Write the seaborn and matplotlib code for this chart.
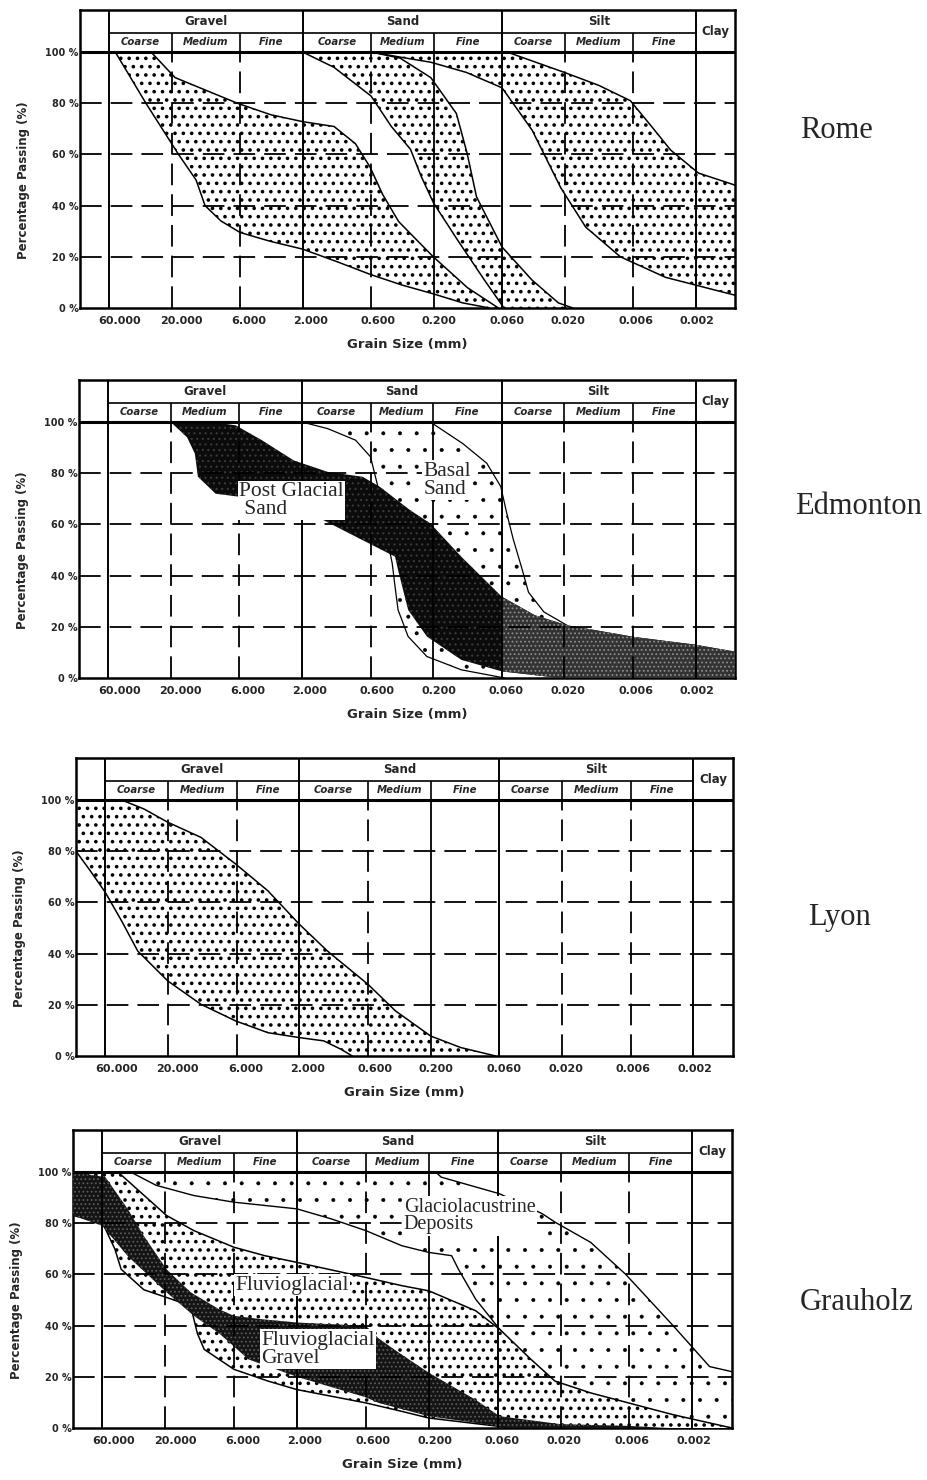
import numpy as np
import pandas as pd
import seaborn as sns
import matplotlib.pyplot as plt
import matplotlib.transforms as mtransforms
from matplotlib.ticker import NullLocator

sns.set_theme(style='white')
plt.rcParams['font.family'] = ['DejaVu Sans']
plt.rcParams['hatch.linewidth'] = 1.0
plt.rcParams['lines.dashed_pattern'] = (12, 5)

# axis values
ticks_mm = [60, 20, 6, 2, 0.6, 0.2, 0.06, 0.02, 0.006, 0.002]
tick_labels = ['60.000', '20.000', '6.000', '2.000', '0.600', '0.200',
               '0.060', '0.020', '0.006', '0.002']
solid_mm = [0.2]
dashed_mm = [20, 6, 0.6, 0.02, 0.006]
pct_ticks = [0, 20, 40, 60, 80, 100]
pct_labels = ['0 %', '20 %', '40 %', '60 %', '80 %', '100 %']
soil_names = ['Gravel', 'Sand', 'Silt', 'Clay']
soil_bounds = [60, 2, 0.06, 0.002, 0.001]
sub_names = ['Coarse', 'Medium', 'Fine']

# Rome
rome_a_left_mm = [53.8, 31.4, 17.7, 13.0, 11.1, 8.4, 6.0, 3.5, 2.0, 1.08, 0.6, 0.35, 0.2, 0.12, 0.075]
rome_a_left_pct = [100, 80, 60, 50, 40, 34, 29.5, 26, 23, 18, 13, 9, 5.5, 2, 0]
rome_a_right_mm = [28.7, 18.8, 6.3, 3.5, 2.0, 1.15, 0.79, 0.61, 0.49, 0.37, 0.26, 0.2, 0.11, 0.064]
rome_a_right_pct = [100, 90, 80, 75.5, 72.8, 70.9, 64.2, 55, 44.4, 33.8, 25.8, 19.9, 7.9, 0]
rome_b_left_mm = [2.0, 1.15, 0.6, 0.42, 0.30, 0.25, 0.2, 0.131, 0.081, 0.058]
rome_b_left_pct = [100, 94, 82.8, 70.9, 62, 51.7, 41, 26.5, 10.6, 0]
rome_b_right_mm = [0.6, 0.36, 0.21, 0.134, 0.111, 0.094, 0.06, 0.0354, 0.0223, 0.0173]
rome_b_right_pct = [100, 97.6, 90, 76, 60.5, 43.4, 23.8, 10.9, 2, 0]
rome_c_left_mm = [0.6, 0.36, 0.21, 0.112, 0.06, 0.0354, 0.0214, 0.0138, 0.0075, 0.0034, 0.001]
rome_c_left_pct = [100, 98, 96, 92, 86, 69.5, 47, 31.6, 20, 12, 5]
rome_c_right_mm = [0.055, 0.02, 0.011, 0.0063, 0.0043, 0.0031, 0.0019, 0.001]
rome_c_right_pct = [100, 92, 87, 81, 70.7, 61.7, 52.7, 48]

# Edmonton
edm_post_up_mm = [21.4, 9.7, 6.4, 4.04, 2.31, 1.27, 0.69, 0.51, 0.30, 0.21, 0.122, 0.06,
                  0.0335, 0.0191, 0.0058, 0.002, 0.001]
edm_post_up_pct = [100, 100, 98.7, 92.9, 85, 80.5, 78.6, 74.7, 65.6, 60.4, 47.4, 31.8,
                   24.5, 20.6, 16, 13, 10.3]
edm_post_lo_mm = [20, 15.0, 13.1, 12.4, 9.1, 6.0, 2.0, 0.91, 0.39, 0.37, 0.31, 0.223, 0.122,
                  0.06, 0.0216, 0.001]
edm_post_lo_pct = [100, 94, 87.7, 78.6, 72, 70.8, 66, 57, 47.4, 42.2, 26.6, 16.2, 7.1, 2.6, 0, 0]
edm_basal_left_mm = [2.0, 1.27, 0.78, 0.6, 0.5, 0.45, 0.41, 0.39, 0.37, 0.31, 0.223, 0.122, 0.057]
edm_basal_left_pct = [100, 97.4, 92.9, 86.4, 70, 55, 44.8, 35.7, 26.6, 16.2, 8.4, 3.2, 0]
edm_basal_right_mm = [0.21, 0.119, 0.078, 0.061, 0.055, 0.049, 0.042, 0.0375, 0.0286, 0.0191, 0.015]
edm_basal_right_pct = [100, 91.6, 83.9, 74.8, 64.5, 54.2, 42.6, 33.5, 25.8, 20.6, 0]

# Lyon
lyon_right_mm = [100, 45, 30.4, 20, 11.2, 6.1, 3.46, 2.0, 1.22, 0.6, 0.37, 0.2, 0.118, 0.064]
lyon_right_pct = [100, 100, 96.5, 91.3, 85.4, 75, 64.5, 51.5, 41, 28, 17.6, 7.8, 3.3, 0]
lyon_left_mm = [100, 78, 60, 45, 33.9, 20, 11.2, 6.1, 3.46, 2.0, 1.3, 0.96, 0.79]
lyon_left_pct = [80, 72.4, 64, 52.8, 41, 29.3, 20.2, 13.7, 9.1, 7.2, 5.9, 2.6, 0]

# Grauholz
gla_right_mm = [36.6, 0.177, 0.161, 0.058, 0.0275, 0.022, 0.0118, 0.0064, 0.0028, 0.00148, 0.001]
gla_right_pct = [100, 100, 98, 91.5, 83.7, 80.4, 72.5, 60, 40, 24, 22]
gla_left_mm = [36.6, 23.4, 12.1, 6, 2, 1.1, 0.6, 0.32, 0.2, 0.134, 0.119, 0.088, 0.058,
               0.0335, 0.022, 0.006, 0.001]
gla_left_pct = [100, 94.8, 90.8, 88.2, 85.6, 81.7, 77.1, 71.2, 68.6, 67.3, 62, 50.3, 38.6,
                24, 15, 7, 0]
flu_up_mm = [100, 45.6, 19.5, 12.1, 6, 3.5, 2, 0.6, 0.32, 0.2, 0.088, 0.058, 0.0335, 0.022,
             0.0118, 0.0061, 0.0028, 0.001]
flu_up_pct = [100, 100, 83, 77.1, 70.6, 67.3, 64.7, 58.8, 55.6, 53.6, 45.8, 38.6, 26.8, 18.3,
              13.7, 9.8, 5.2, 0]
flu_lo_mm = [100, 60, 48.2, 43.1, 29, 19.5, 12.8, 11.4, 10.1, 6, 3.3, 2, 0.6, 0.32, 0.2, 0.058, 0.05]
flu_lo_pct = [83, 80.4, 70, 62, 54, 51, 47.7, 37, 30.7, 22.9, 18.3, 15, 9.8, 6.5, 3.9, 0.6, 0]
grv_up_mm = [100, 56.8, 38.5, 29, 19.5, 12.8, 7.8, 6, 3.7, 2, 0.6, 0.48, 0.35, 0.2, 0.088,
             0.058, 0.02, 0.006, 0.003]
grv_up_pct = [100, 98, 85.6, 75, 62, 53, 46.4, 43.8, 42.5, 41.2, 39.9, 35, 30, 21.6, 11,
              4.6, 1.5, 0.8, 0]
grv_lo_mm = [100, 60, 38.2, 19.5, 12.1, 7.8, 4.66, 2, 0.6, 0.48, 0.2, 0.088, 0.058, 0.05, 0.003]
grv_lo_pct = [83, 79, 67, 53, 43.8, 37, 26.8, 20, 12, 9.8, 4.6, 2, 0.6, 0, 0]

X_MAX, X_MIN = 100, 0.001
HEAD_MID, HEAD_TOP = 107.5, 116.4
SERIF = ['Liberation Serif', 'DejaVu Serif']

fig = plt.figure(figsize=(9.27, 14.8), dpi=100)
W, H = 927, 1480


def make_axes(left, right, bottom):
    top = bottom - HEAD_TOP * 2.56
    ax = fig.add_axes([left / W, 1 - bottom / H, (right - left) / W, (bottom - top) / H])
    ax.set_xscale('log')
    return ax


def frame(ax):
    ax.set_xlim(X_MAX, X_MIN)
    ax.set_ylim(0, HEAD_TOP)
    ax.xaxis.set_minor_locator(NullLocator())
    ax.set_xticks(ticks_mm)
    ax.set_xticklabels([])
    # the printed labels sit a little right of their grid lines
    for i, (v, s) in enumerate(zip(ticks_mm, tick_labels)):
        shift = mtransforms.ScaledTranslation((11 - 1.05 * i) / 100, -0.13, fig.dpi_scale_trans)
        ax.text(v, 0, s, transform=ax.get_xaxis_transform() + shift, ha='center', va='center',
                fontsize=8, fontweight='bold')
    ax.set_yticks(pct_ticks)
    ax.set_yticklabels(pct_labels, fontsize=7, fontweight='bold')
    ax.tick_params(axis='x', length=0, pad=6)
    ax.tick_params(axis='y', length=0, pad=1)
    ax.grid(False)
    for s in ax.spines.values():
        s.set_color('black')
        s.set_linewidth(1.8)
    ax.hlines([20, 40, 60, 80], X_MAX, X_MIN, colors='black', lw=1.3, linestyles='--', zorder=6)
    ax.vlines(dashed_mm, 0, 100, colors='black', lw=1.3, linestyles='--', zorder=6)
    ax.vlines(solid_mm, 0, 100, colors='black', lw=1.3, zorder=6)
    ax.vlines(dashed_mm + solid_mm, 100, HEAD_MID, colors='black', lw=1.2, zorder=6)
    ax.vlines(soil_bounds[:4], 0, HEAD_TOP, colors='black', lw=1.4, zorder=6)
    ax.hlines(100, X_MAX, X_MIN, colors='black', lw=2.2, zorder=6)
    ax.hlines(HEAD_MID, soil_bounds[0], soil_bounds[3], colors='black', lw=1.2, zorder=6)
    for i, name in enumerate(soil_names):
        xm = np.sqrt(soil_bounds[i] * soil_bounds[i + 1])
        ym = (100 + HEAD_TOP) / 2 if name == 'Clay' else (HEAD_MID + HEAD_TOP) / 2
        ax.text(xm, ym, name, ha='center', va='center', fontsize=8.5, fontweight='bold', zorder=7)
    for k in range(3):
        for j, name in enumerate(sub_names):
            a, b = ticks_mm[3 * k + j], ticks_mm[3 * k + j + 1]
            ax.text(np.sqrt(a * b), (100 + HEAD_MID) / 2, name, ha='center', va='center',
                    fontsize=7.3, fontweight='bold', style='italic', zorder=7)
    ax.set_xlabel('Grain Size (mm)', fontsize=9.5, fontweight='bold')
    ax.set_ylabel('Percentage Passing (%)', fontsize=8.5, fontweight='bold')
    ax.xaxis.set_label_coords(0.5, -0.10)
    ax.yaxis.set_label_coords(-0.076, 0.43)


def band(ax, up_x, up_y, lo_x, lo_y, hatch='..', face='white', edge='black', lines=True,
         lw=1.1, z=2, hlw=1.4):
    xs = list(up_x) + list(lo_x)[::-1]
    ys = list(up_y) + list(lo_y)[::-1]
    with plt.rc_context({'hatch.linewidth': hlw}):
        patches = ax.fill(xs, ys, facecolor=face, edgecolor=edge, hatch=hatch, linewidth=0,
                          zorder=z)
    for p in patches:
        if hasattr(p, 'set_hatch_linewidth'):
            p.set_hatch_linewidth(hlw)
    if lines:
        for cx, cy in ((up_x, up_y), (lo_x, lo_y)):
            sns.lineplot(x=cx, y=cy, ax=ax, color='black', linewidth=lw, sort=False,
                         estimator=None, zorder=z + 0.5)


def label(ax, x, y, s, size=15.5):
    ax.text(x, y, s, family=SERIF, fontsize=size, ha='left', va='top', linespacing=0.92,
            zorder=10, bbox=dict(facecolor='white', edgecolor='none', pad=1.0))


# Rome
ax = make_axes(80, 735, 308)
band(ax, rome_a_right_mm, rome_a_right_pct, rome_a_left_mm, rome_a_left_pct)
band(ax, rome_b_right_mm, rome_b_right_pct, rome_b_left_mm, rome_b_left_pct)
band(ax, rome_c_right_mm, rome_c_right_pct, rome_c_left_mm, rome_c_left_pct)
frame(ax)

# Edmonton
ax = make_axes(79, 735, 678)
band(ax, edm_basal_right_mm, edm_basal_right_pct, edm_basal_left_mm, edm_basal_left_pct,
     hatch='.', lw=0.9, hlw=0.4)
band(ax, edm_post_up_mm, edm_post_up_pct, edm_post_lo_mm, edm_post_lo_pct,
     hatch='...', face='#0b0b0b', edge='#3a3a3a', lines=False, z=3, hlw=0.8)
up_x, up_y = np.array(edm_post_up_mm), np.array(edm_post_up_pct)
lo_x, lo_y = np.array(edm_post_lo_mm), np.array(edm_post_lo_pct)
band(ax, up_x[up_x <= 0.06], up_y[up_x <= 0.06], lo_x[lo_x <= 0.06], lo_y[lo_x <= 0.06],
     hatch='....', face='#333333', edge='#8c8c8c', lines=False, z=3.2, hlw=0.8)
label(ax, 6.0, 76.5, 'Post Glacial\n Sand')
label(ax, 0.238, 84.5, 'Basal\nSand')
frame(ax)

# Lyon
ax = make_axes(76, 733, 1056)
band(ax, lyon_right_mm, lyon_right_pct, lyon_left_mm, lyon_left_pct)
frame(ax)

# Grauholz
ax = make_axes(73, 732, 1428)
band(ax, gla_right_mm, gla_right_pct, gla_left_mm, gla_left_pct, hatch='.', lw=1.0, hlw=0.4)
band(ax, flu_up_mm, flu_up_pct, flu_lo_mm, flu_lo_pct, hatch='..', z=3)
band(ax, grv_up_mm, grv_up_pct, grv_lo_mm, grv_lo_pct, hatch='....', face='#141414',
     edge='#5a5a5a', lines=False, z=4, hlw=0.8)
label(ax, 0.31, 90, 'Glaciolacustrine\nDeposits', size=14.5)
label(ax, 5.9, 59.5, 'Fluvioglacial')
label(ax, 3.74, 38, 'Fluvioglacial\nGravel')
frame(ax)

# panel names
panel_names = ['Rome', 'Edmonton', 'Lyon', 'Grauholz']
name_x = [800, 795, 808, 800]
name_y = [130, 507, 918, 1303]
for n, x, y in zip(panel_names, name_x, name_y):
    fig.text(x / W, 1 - y / H, n, family=SERIF, fontsize=22, va='center', ha='left')

fig.savefig('out.png', dpi=100)
